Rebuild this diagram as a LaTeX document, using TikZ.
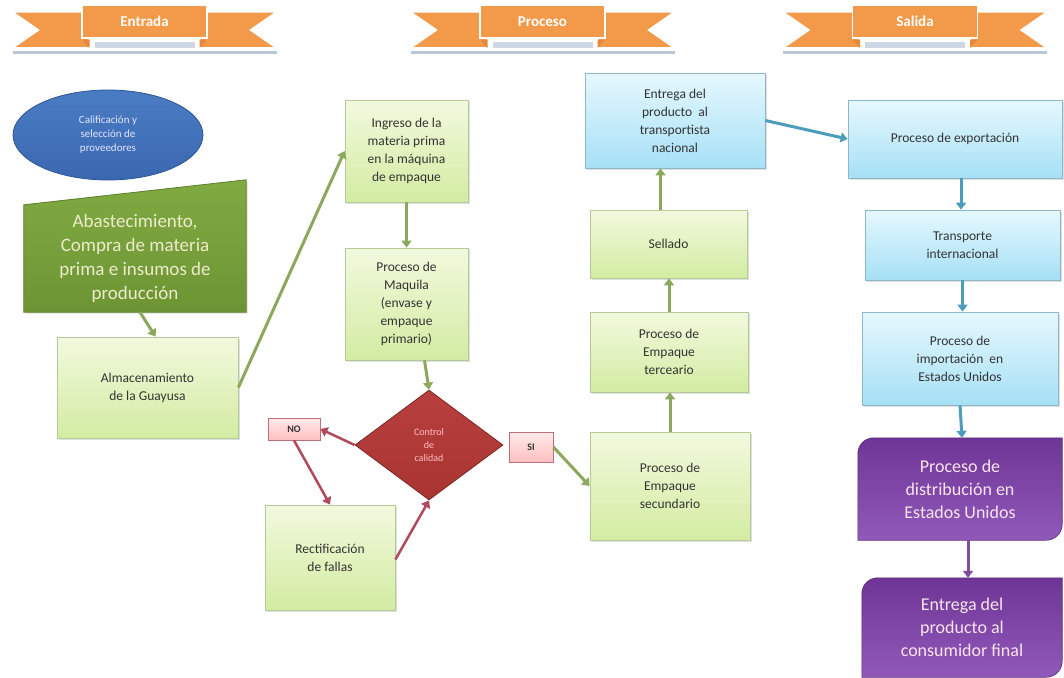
\documentclass[tikz,border=0pt]{standalone}
\usepackage{fontspec}
\setmainfont{Carlito}
\usetikzlibrary{arrows.meta,shapes.geometric,shadows}
\definecolor{gfillT}{HTML}{F2F9DE}
\definecolor{gfillB}{HTML}{D3ECA2}
\definecolor{gline}{HTML}{B5C99A}
\definecolor{bfillT}{HTML}{E6F8FE}
\definecolor{bfillB}{HTML}{A6E0F6}
\definecolor{bline}{HTML}{8DB6C9}
\definecolor{purT}{HTML}{6E3596}
\definecolor{purB}{HTML}{9159BA}
\definecolor{garrow}{HTML}{8CA85C}
\definecolor{barrow}{HTML}{4C9DBC}
\definecolor{rarrow}{HTML}{B04A5C}
\definecolor{parrow}{HTML}{7C4E9C}
\definecolor{orib}{HTML}{F29A4A}
\definecolor{oribD}{HTML}{E8863A}
\definecolor{ribshadow}{HTML}{B9C7DA}
\definecolor{txt}{HTML}{333333}
\definecolor{olT}{HTML}{82AA42}
\definecolor{olB}{HTML}{6C9434}
\definecolor{olL}{HTML}{5A7E2A}
\definecolor{elT}{HTML}{4A7CC4}
\definecolor{elB}{HTML}{3A68B0}
\definecolor{elL}{HTML}{2F5694}
\definecolor{dmT}{HTML}{B8403E}
\definecolor{dmB}{HTML}{A83432}
\tikzset{
  box/.style={draw=gline, line width=0.8pt, top color=gfillT, bottom color=gfillB,
    text=txt, align=center, font=\fontsize{13.5}{18}\selectfont, inner sep=2pt,
    drop shadow={opacity=0.25, shadow xshift=1.5pt, shadow yshift=-1.5pt}},
  bbox/.style={box, draw=bline, top color=bfillT, bottom color=bfillB},
  tag/.style={draw=rarrow!80, line width=0.8pt, top color=red!8, bottom color=red!25,
    text=txt, font=\bfseries\fontsize{10}{12}\selectfont, inner sep=0pt},
  garr/.style={draw=garrow, line width=3pt, -{Triangle[width=10pt,length=7pt]}},
  barr/.style={garr, draw=barrow},
  rarr/.style={garr, draw=rarrow, line width=2.5pt},
  parr/.style={garr, draw=parrow},
  ptext/.style={align=center, text=white!90!purple, font=\fontsize{18}{23}\selectfont},
}
\newcommand{\ribbon}[3]{%
  % #1 = centre x, #2 = text, #3 = name
  \fill[ribshadow] (#1-132,51) -- (#1+132,51) -- (#1+132,54) -- (#1-132,54) -- cycle;
  \fill[ribshadow!70!white] (#1-50,42) rectangle (#1+50,48);
  \draw[white, line width=1.5pt, fill=orib] (#1-55,12) -- (#1-132,12) -- (#1-106,30) -- (#1-132,48) -- (#1-55,48) -- cycle;
  \draw[white, line width=1.5pt, fill=orib] (#1+55,12) -- (#1+132,12) -- (#1+106,30) -- (#1+132,48) -- (#1+55,48) -- cycle;
  \fill[oribD] (#1-62,40) -- (#1-55,48) -- (#1-55,40) -- cycle;
  \fill[oribD] (#1+62,40) -- (#1+55,48) -- (#1+55,40) -- cycle;
  \node[draw=white, line width=1.5pt, fill=orib, minimum width=125pt, minimum height=33pt,
    text=white, font=\bfseries\fontsize{15}{18}\selectfont] (#3) at (#1,21.5) {#2};
}
\begin{document}
\begin{tikzpicture}[x=1pt,y=-1pt]
\useasboundingbox (0,0) rectangle (1064,677);
\fill[white] (0,0) rectangle (1064,677);

% banners
\ribbon{144.5}{Entrada}{bEnt}
\ribbon{542.5}{Proceso}{bPro}
\ribbon{915}{Salida}{bSal}

% entrada
\node[ellipse, draw=elL, line width=0.8pt, top color=elT, bottom color=elB,
  minimum width=190pt, minimum height=90pt, text=white!90!blue, align=center,
  font=\fontsize{11}{14}\selectfont] (cal) at (108,135)
  {Calificación y\\selección de\\proveedores};

\node[minimum width=222pt, minimum height=107pt, inner sep=0pt] (abast) at (135,258.5) {};
\draw[draw=olL, line width=0.8pt, top color=olT, bottom color=olB,
  drop shadow={opacity=0.25, shadow xshift=1.5pt, shadow yshift=-1.5pt}]
  (abast.north west) -- ([yshift=25pt]abast.north east) -- (abast.south east) -- (abast.south west) -- cycle;
\node[align=center, text=white!85!olive, font=\fontsize{19}{24}\selectfont] at (abast.center)
  {Abastecimiento,\\Compra de materia\\prima e insumos de\\producción};

\node[box, minimum width=181pt, minimum height=101pt] (alm) at (147.5,387.5) {Almacenamiento\\de la Guayusa};

% proceso
\node[box, minimum width=123pt, minimum height=102pt] (ing) at (406.5,151) {Ingreso de la\\materia prima\\en la máquina\\de empaque};
\node[box, minimum width=123pt, minimum height=112pt] (maq) at (406.5,304) {Proceso de\\Maquila\\(envase y\\empaque\\primario)};
\node[diamond, draw=dmB!75!black, line width=0.8pt, top color=dmT, bottom color=dmB,
  minimum width=148pt, minimum height=110pt, aspect=1.35, inner sep=0pt,
  text=red!25!white, align=center, font=\fontsize{10}{13}\selectfont] (ctrl) at (429,445) {Control\\de\\calidad};
\node[tag, minimum width=52pt, minimum height=22pt] (no) at (294,429) {NO};
\node[tag, minimum width=44pt, minimum height=30pt] (si) at (531,447) {SI};
\node[box, minimum width=130pt, minimum height=105pt] (rect) at (330,557.5) {Rectificación\\de fallas};
\node[box, minimum width=160pt, minimum height=108pt] (sec) at (670,486) {Proceso de\\Empaque\\secundario};
\node[box, minimum width=158pt, minimum height=80pt] (ter) at (669,352) {Proceso de\\Empaque\\terceario};
\node[box, minimum width=157pt, minimum height=68pt] (sel) at (668.5,244) {Sellado};
\node[bbox, minimum width=180pt, minimum height=95pt] (ent) at (675,120.5) {Entrega del\\producto~ al\\transportista\\nacional};

% salida
\node[bbox, minimum width=214pt, minimum height=78pt] (exp) at (955,139) {Proceso de exportación};
\node[bbox, minimum width=195pt, minimum height=70pt] (tra) at (962.5,245) {Transporte\\internacional};
\node[bbox, minimum width=196pt, minimum height=93pt] (imp) at (960,358.5) {Proceso de\\importación~ en\\Estados Unidos};
\node[minimum width=204pt, minimum height=102pt, inner sep=0pt] (dis) at (960,489) {};
\node[minimum width=200pt, minimum height=99pt, inner sep=0pt] (con) at (962,627.5) {};
\foreach \n in {dis,con}{
  \draw[draw=purT!80!black, line width=0.6pt, top color=purT, bottom color=purB]
    ([yshift=-16pt]\n.north west) arc[start angle=180, end angle=90, radius=16pt]
    -- (\n.north east) -- ([yshift=16pt]\n.south east) arc[start angle=0, end angle=-90, radius=16pt]
    -- (\n.south west) -- cycle;
}
\node[ptext] at (dis.center) {Proceso de\\distribución en\\Estados Unidos};
\node[ptext] at (con.center) {Entrega del\\producto al\\consumidor final};

% connectors
\draw[garr] ([xshift=5pt]abast.south) -- ([xshift=8pt]alm.north);
\draw[garr] (alm.east) -- (ing.west);
\draw[garr] (ing.south) -- (ing.south |- maq.north);
\draw[garr] ([xshift=18pt]maq.south) -- (ctrl.north);
\draw[rarr] (ctrl.west) -- (no.east);
\draw[rarr] (no.south) -- (rect.north);
\draw[rarr] ([yshift=-2pt]rect.east) -- (ctrl.south);
\draw[garr] (si.east) -- (sec.west);
\draw[garr] (sec.north) -- (sec.north |- ter.south);
\draw[garr] (ter.north) -- (ter.north |- sel.south);
\draw[garr] ([xshift=-8pt]sel.north) -- ([xshift=-8pt]sel.north |- ent.south);
\draw[barr] (ent.east) -- (exp.west);
\draw[barr] ([xshift=6pt]exp.south) -- ([xshift=-1.5pt]tra.north);
\draw[barr] (tra.south) -- (tra.south |- imp.north);
\draw[barr] (imp.south) -- ([xshift=2pt]imp.south |- dis.north);
\draw[parr] ([xshift=8pt]dis.south) -- ([xshift=8pt]dis.south |- con.north);
\end{tikzpicture}
\end{document}
